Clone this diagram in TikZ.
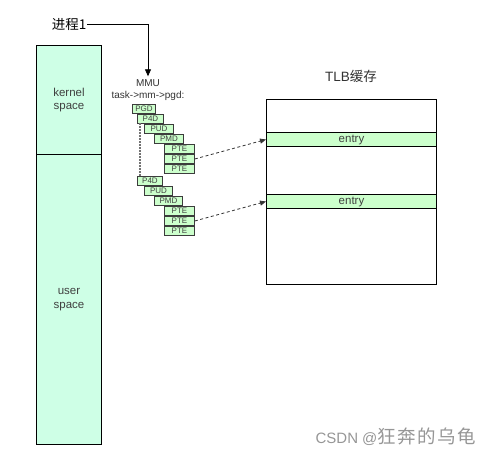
\documentclass[tikz,border=0pt]{standalone}
\usepackage{fontspec}
\setmainfont{Liberation Sans}
\newfontfamily\cjk{Noto Sans CJK SC}
\definecolor{SpaceFill}{RGB}{206,255,230}
\definecolor{EntryFill}{RGB}{204,255,204}
\definecolor{TableFill}{RGB}{204,255,204}
\definecolor{TableLine}{RGB}{60,60,60}
\definecolor{MarkText}{RGB}{150,150,150}
\usetikzlibrary{arrows.meta}
\tikzset{
    space box/.style={
        draw, line width=1pt, fill=SpaceFill, anchor=north west,
        inner sep=0pt, minimum width=65pt, align=center,
        text=black!75, font=\fontsize{11.5}{13.5}\selectfont
    },
    table box/.style={
        draw=TableLine, line width=0.9pt, fill=TableFill, anchor=north west,
        inner sep=0pt, minimum height=9pt, text=black!75,
        font=\fontsize{8}{8}\selectfont
    },
    entry box/.style={
        draw, line width=1pt, fill=EntryFill, anchor=north west,
        inner sep=0pt, minimum width=170pt, minimum height=14pt,
        text=black!75, font=\fontsize{11.5}{11.5}\selectfont
    },
    small text/.style={font=\fontsize{10}{10}\selectfont, text=black!80, inner sep=0pt}
}

\begin{document}
\begin{tikzpicture}[x=1pt, y=-1pt]

\useasboundingbox (0,0) rectangle (491,456);

% Espacio de direcciones del proceso.
\node[space box, minimum height=109pt] (kernel) at (36,45) {kernel\\space};
\node[space box, minimum height=290pt] (user) at (36,154) {user\\space};

% Proceso y MMU.
\node[font=\cjk\fontsize{13.5}{13.5}\selectfont, inner sep=1pt] (proc) at (69,24) {进程1};
\node[small text] (mmu) at (148,83) {MMU};
\node[small text] (pgd) at (148,96) {task->mm->pgd:};
\draw[-{Triangle[length=7pt, width=6pt]}, line width=0.8pt] (proc.east) -| ([yshift=3pt]mmu.north);

% Primer grupo de tablas de paginas.
\node[table box, minimum width=23pt] (pgdA) at (132,104) {PGD};
\node[table box, minimum width=26pt] (pfdA) at (137,114) {P4D};
\node[table box, minimum width=29pt] (pudA) at (144,124) {PUD};
\node[table box, minimum width=29pt] (pmdA) at (154,134) {PMD};
\node[table box, minimum width=30pt] (pteA) at (164,144) {PTE};
\node[table box, minimum width=30pt] (pteB) at (164,154) {PTE};
\node[table box, minimum width=30pt] (pteC) at (164,164) {PTE};

% Segundo grupo de tablas de paginas.
\node[table box, minimum width=25pt] (pfdB) at (137,176) {P4D};
\node[table box, minimum width=28pt] (pudB) at (144,186) {PUD};
\node[table box, minimum width=28pt] (pmdB) at (154,196) {PMD};
\node[table box, minimum width=30pt] (pteD) at (164,206) {PTE};
\node[table box, minimum width=30pt] (pteE) at (164,216) {PTE};
\node[table box, minimum width=30pt] (pteF) at (164,226) {PTE};

% Linea punteada entre los dos grupos.
\coordinate (dotTop) at (140,123);
\coordinate (dotBot) at (140,176);
\draw[dash pattern=on 1.5pt off 1.5pt, line width=1.2pt, black!55] (dotTop) -- (dotBot);

% Cache TLB y sus entradas.
\node[font=\fontsize{13.5}{13.5}\selectfont, text=black!80] (tlbTitle) at (351,76) {TLB{\cjk 缓存}};
\draw[line width=1pt] (266,99) coordinate (tlbTop) rectangle (436,284) coordinate (tlbBot);
\node[entry box] (entryA) at (266,132) {entry};
\node[entry box] (entryB) at (266,194) {entry};

% Flechas de las PTE hacia las entradas.
\draw[dash pattern=on 3pt off 2.5pt, line width=0.8pt, black!80,
      -{Triangle[length=6pt, width=5pt]}] (pteB.east) -- (entryA.west);
\draw[dash pattern=on 3pt off 2.5pt, line width=0.8pt, black!80,
      -{Triangle[length=6pt, width=5pt]}] (pteE.east) -- (entryB.west);

% Marca de agua.
\node[text=MarkText, font=\fontsize{15}{15}\selectfont, anchor=east, inner sep=0pt] (mark) at (476,437) {CSDN\hspace{4pt}@{\cjk\fontsize{18.5}{18.5}\selectfont\addfontfeature{LetterSpace=8} 狂奔的乌龟}};

\end{tikzpicture}
\end{document}
